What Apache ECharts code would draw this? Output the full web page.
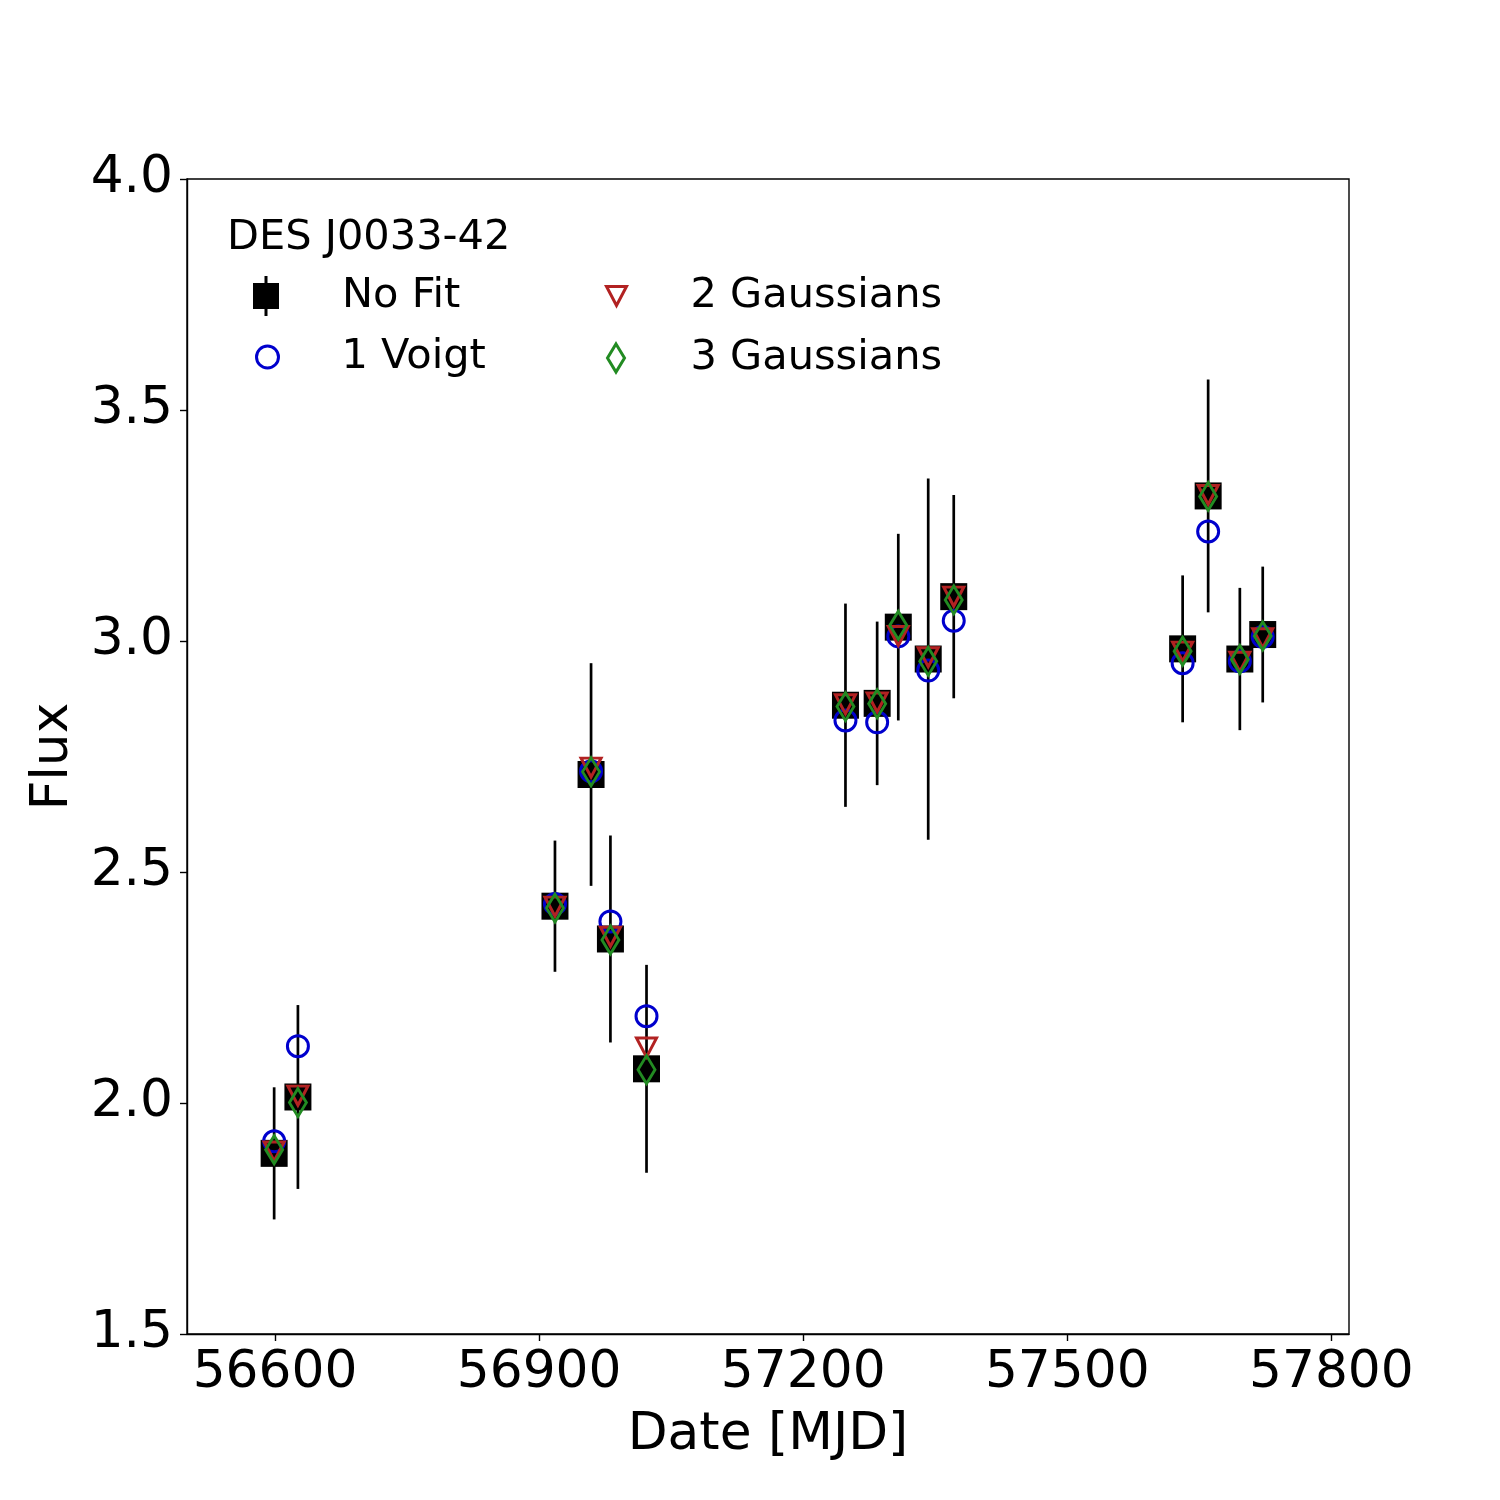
<!DOCTYPE html>
<html>
<head>
<meta charset="utf-8">
<script src="https://cdn.jsdelivr.net/npm/echarts@6/dist/echarts.min.js"></script>
<style>
html, body { margin: 0; padding: 0; background: #fff; }
#chart { width: 1500px; height: 1500px; }
</style>
</head>
<body>
<div id="chart"></div>
<script>
// ---- data ----
const mjd      = [56599, 56626, 56918, 56959, 56981, 57022, 57248, 57284, 57308, 57342, 57371, 57631, 57660, 57696, 57722];
const noFit    = [1.891, 2.013, 2.426, 2.711, 2.355, 2.074, 2.861, 2.865, 3.030, 2.961, 3.096, 2.983, 3.314, 2.961, 3.014];
const noFitErr = [0.143, 0.199, 0.142, 0.241, 0.224, 0.225, 0.220, 0.177, 0.202, 0.391, 0.220, 0.159, 0.252, 0.154, 0.147];
const voigt1   = [1.917, 2.123, 2.431, 2.718, 2.393, 2.188, 2.828, 2.824, 3.010, 2.936, 3.044, 2.952, 3.237, 2.956, 3.009];
const gauss2   = [1.895, 2.016, 2.425, 2.726, 2.360, 2.120, 2.863, 2.867, 3.011, 2.965, 3.096, 2.977, 3.316, 2.955, 3.006];
const gauss3   = [1.899, 2.001, 2.422, 2.717, 2.353, 2.072, 2.858, 2.864, 3.034, 2.956, 3.089, 2.978, 3.313, 2.960, 3.011];
const xTicks   = [56600, 56900, 57200, 57500, 57800];
const legendTitle = 'DES J0033-42';
const seriesNames = ['No Fit', '1 Voigt', '2 Gaussians', '3 Gaussians'];

const FONT = 'DejaVu Sans';
const BLUE = '#0000CD', RED = '#B22222', GREEN = '#228B22';
const TRI_DOWN = 'path://M0,0 L20,0 L10,19 Z';
const NOFIT_ICON = 'path://M12.5,0 L15.5,0 L15.5,7 L27,7 L27,33 L15.5,33 L15.5,40 L12.5,40 L12.5,33 L1,33 L1,7 L12.5,7 Z';
const LEG_FS = 41.5, AX_FS = 51.8;

const chart = echarts.init(document.getElementById('chart'), null, { renderer: 'canvas' });

function legendFor(name, icon, left, top, w, h, padLeft, bw) {
  return {
    data: [{ name: name, icon: icon }],
    left: left, top: top, padding: 0,
    itemWidth: w, itemHeight: h,
    selectedMode: false,
    itemStyle: { borderWidth: bw },
    textStyle: { fontFamily: FONT, fontSize: LEG_FS, color: '#000', lineHeight: 40, padding: [16, 0, 0, padLeft] }
  };
}

const option = {
  animation: false,
  backgroundColor: '#fff',
  title: {
    text: legendTitle, left: 227, top: 217, padding: 0,
    textStyle: { fontFamily: FONT, fontSize: LEG_FS, fontWeight: 'normal', color: '#000' }
  },
  legend: [
    legendFor(seriesNames[0], NOFIT_ICON, 253, 268, 26, 40, 58, 0),
    legendFor(seriesNames[1], 'circle', 255, 329, 22, 22, 58, 3),
    legendFor(seriesNames[2], TRI_DOWN, 605, 268, 20, 19, 59, 3),
    legendFor(seriesNames[3], 'diamond', 606, 330, 17, 28, 61, 3)
  ],
  grid: {
    left: 187, top: 179, width: 1162, height: 1155,
    show: true, borderColor: '#000', borderWidth: 1.4, backgroundColor: 'transparent',
    containLabel: false, outerBoundsMode: 'none'
  },
  xAxis: {
    type: 'value', min: 56500, max: 57820,
    name: 'Date [MJD]', nameLocation: 'middle', nameGap: 76,
    nameTextStyle: { fontFamily: FONT, fontSize: AX_FS, color: '#000' },
    axisLine: { show: true, onZero: false, lineStyle: { color: '#000', width: 1.4 } },
    axisTick: { show: true, inside: false, length: 7, lineStyle: { color: '#000', width: 1.4 }, customValues: xTicks },
    axisLabel: { fontFamily: FONT, fontSize: AX_FS, color: '#000', margin: 14, customValues: xTicks, formatter: v => String(v) },
    splitLine: { show: false }
  },
  yAxis: {
    type: 'value', min: 1.5, max: 4.0, interval: 0.5,
    name: 'Flux', nameLocation: 'middle', nameGap: 105, nameRotate: 90,
    nameTextStyle: { fontFamily: FONT, fontSize: AX_FS, color: '#000' },
    axisLine: { show: true, onZero: false, lineStyle: { color: '#000', width: 1.4 } },
    axisTick: { show: true, inside: false, length: 7, lineStyle: { color: '#000', width: 1.4 } },
    axisLabel: { fontFamily: FONT, fontSize: AX_FS, color: '#000', margin: 14, formatter: v => v.toFixed(1) },
    splitLine: { show: false }
  },
  series: [
    {
      name: seriesNames[0], type: 'custom', z: 2,
      itemStyle: { color: '#000' },
      encode: { x: 0, y: 1 },
      data: mjd.map((m, i) => [m, noFit[i], noFitErr[i]]),
      renderItem: function (params, api) {
        const x = api.value(0), y = api.value(1), e = api.value(2);
        const top = api.coord([x, y + e]);
        const bot = api.coord([x, y - e]);
        const c = api.coord([x, y]);
        const s = 27;
        return {
          type: 'group',
          children: [
            { type: 'line', shape: { x1: top[0], y1: top[1], x2: bot[0], y2: bot[1] }, style: { stroke: '#000', lineWidth: 2.7 } },
            { type: 'rect', shape: { x: c[0] - s / 2, y: c[1] - s / 2, width: s, height: s }, style: { fill: '#000' } }
          ]
        };
      }
    },
    {
      name: seriesNames[1], type: 'scatter', z: 3,
      symbol: 'circle', symbolSize: 21,
      itemStyle: { color: 'rgba(0,0,0,0)', borderColor: BLUE, borderWidth: 3, opacity: 1 },
      emphasis: { disabled: true },
      data: mjd.map((m, i) => [m, voigt1[i]])
    },
    {
      name: seriesNames[2], type: 'scatter', z: 4,
      symbol: TRI_DOWN, symbolSize: [20, 19],
      itemStyle: { color: 'rgba(0,0,0,0)', borderColor: RED, borderWidth: 3, opacity: 1 },
      emphasis: { disabled: true },
      data: mjd.map((m, i) => [m, gauss2[i]])
    },
    {
      name: seriesNames[3], type: 'scatter', z: 5,
      symbol: 'diamond', symbolSize: [17, 28],
      itemStyle: { color: 'rgba(0,0,0,0)', borderColor: GREEN, borderWidth: 3, opacity: 1 },
      emphasis: { disabled: true },
      data: mjd.map((m, i) => [m, gauss3[i]])
    }
  ]
};
chart.setOption(option);
</script>
</body>
</html>
